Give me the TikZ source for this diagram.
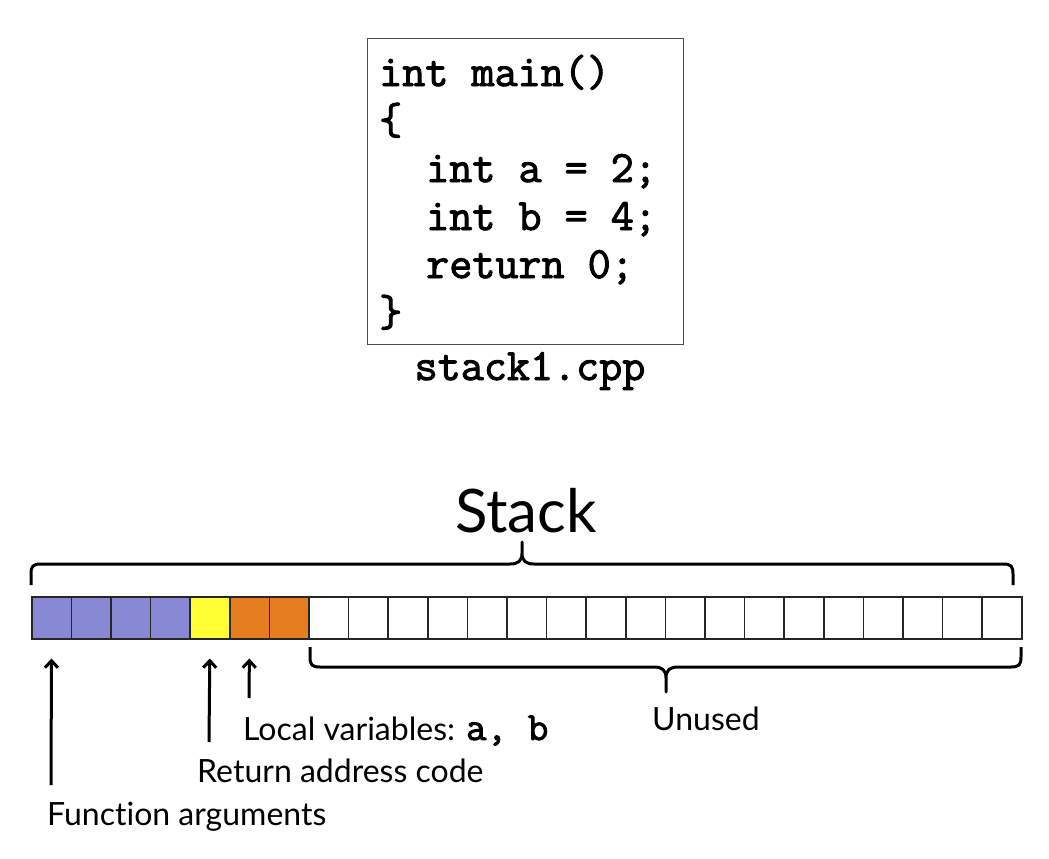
\documentclass[tikz,border=0pt]{standalone}
\usepackage{fontspec}
\setmainfont{Lato}[Ligatures={NoCommon,NoRare}]
\newfontfamily\codefont{Latin Modern Mono}[FakeBold=2.2]
\usetikzlibrary{arrows.meta}
\definecolor{argfill}{RGB}{136,136,212}
\definecolor{retfill}{RGB}{255,255,51}
\definecolor{locfill}{RGB}{230,125,30}
\tikzset{
  cell/.style={draw=black!85, line width=1.5pt, minimum width=39.6pt, minimum height=42pt,
    inner sep=0pt, anchor=north west},
  codeline/.style={anchor=base west, inner sep=0pt,
    font=\codefont\fontsize{44.8pt}{48pt}\selectfont},
  lbl/.style={anchor=base west, inner sep=0pt, font=\fontsize{32pt}{36pt}\selectfont},
  arr/.style={line width=3pt, -{Straight Barb[length=7pt,width=13pt]}, shorten >=19pt},
  brace/.style={line width=3pt, line join=round}
}
\begin{document}
\begin{tikzpicture}[x=1pt,y=-1pt]
  \useasboundingbox (0,0) rectangle (1049,859);
  % source listing
  \node[draw=black!70, line width=1pt, minimum width=316pt, minimum height=306pt,
    inner sep=0pt, anchor=north west] (box) at (367,38) {};
  \foreach \i/\ind/\txt in {0/0/int main(),1/0/\{,2/2/int a = 2;,3/2/int b = 4;,4/2/return 0;,5/0/\}}
    \node[codeline] (l\i) at ({379+\ind*23.5},{86+\i*48}) {\txt};
  \node[codeline, anchor=base] (file) at (530,380) {stack1.cpp};

  % stack cells
  \foreach \i/\c in {1/argfill,2/argfill,3/argfill,4/argfill,5/retfill,6/locfill,7/locfill}
    \node[cell, fill=\c] (c\i) at ({31+(\i-1)*39.6},596) {};
  \foreach \i in {8,...,25}
    \node[cell] (c\i) at ({31+(\i-1)*39.6},596) {};

  % braces
  \node[anchor=base, inner sep=0pt, font=\fontsize{60pt}{70pt}\selectfont] (title) at (526,532) {Stack};
  \draw[brace] (31,585) -- (31,574) .. controls (31,566) and (33,564) .. (41,564) -- (510,564)
    .. controls (518,564) and (522,561) .. (522,553) -- (522,542) -- (522,553)
    .. controls (522,561) and (526,564) .. (534,564) -- (1003,564)
    .. controls (1011,564) and (1013,566) .. (1013,574) -- (1013,585);
  \draw[brace] (310,647) -- (310,657) .. controls (310,665) and (312,667) .. (320,667) -- (654,667)
    .. controls (662,667) and (666,670) .. (666,678) -- (666,692) -- (666,678)
    .. controls (666,670) and (670,667) .. (678,667) -- (1011,667)
    .. controls (1019,667) and (1021,665) .. (1021,657) -- (1021,647);

  % labels
  \node[lbl] (args) at (47,825) {Function arguments};
  \node[lbl] (ret) at (197,782) {Return address code};
  \node[lbl] (locals) at (243,740) {Local variables: {\codefont\fontsize{40pt}{40pt}\selectfont a, b}};
  \node[lbl] (unused) at (652,730) {Unused};

  \coordinate (args tail) at (51,785);
  \coordinate (ret tail) at (209,742);
  \coordinate (locals tail) at (249,698);
  \draw[arr] (args tail) -- (c1.south);
  \draw[arr] (ret tail) -- (c5.south);
  \draw[arr] (locals tail) -- (c6.south);
\end{tikzpicture}
\end{document}
